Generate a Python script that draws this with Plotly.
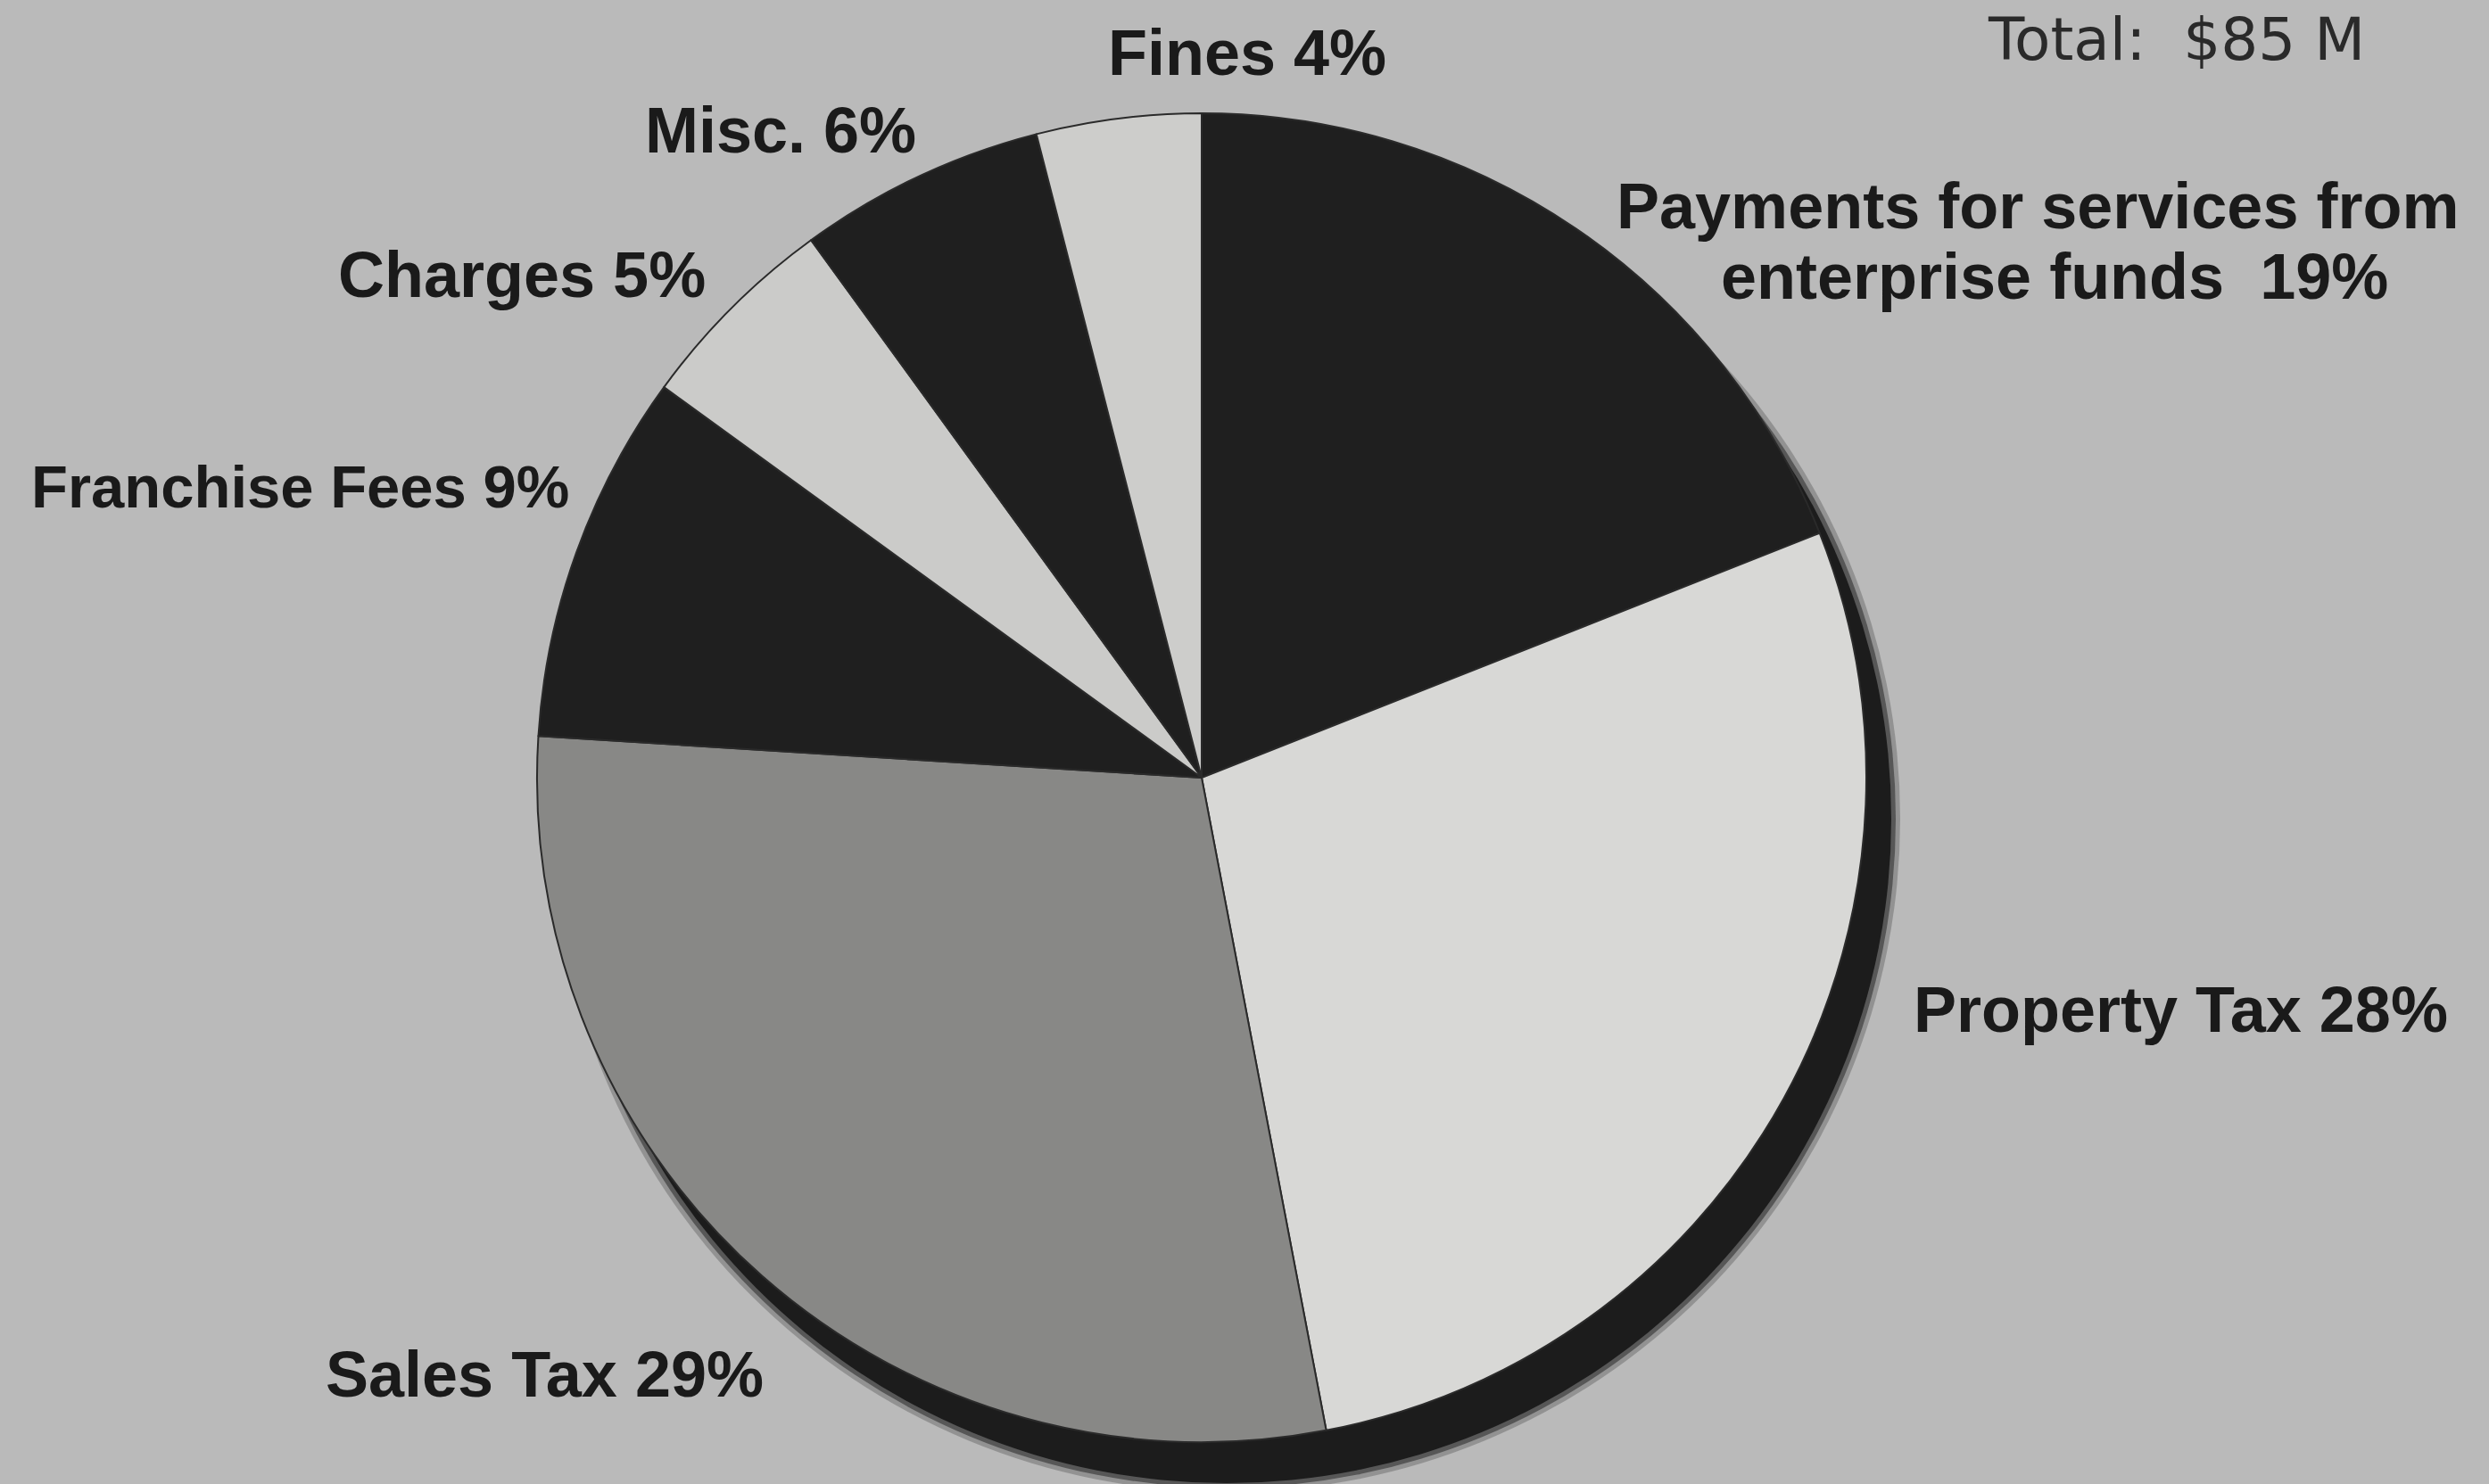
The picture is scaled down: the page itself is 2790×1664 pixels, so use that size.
import plotly.graph_objects as go

# ---- data ----
categories = ["Payments for services from enterprise funds", "Property Tax", "Sales Tax",
              "Franchise Fees", "Charges", "Misc.", "Fines"]
values = [19, 28, 29, 9, 5, 6, 4]
total_label = "Total:  $85 M"

# ---- styles ----
W, H = 2790, 1664
BG = "#bababa"
slice_colors = ["#1f1f1f", "#d8d8d6", "#888886", "#1f1f1f", "#cbcbc9", "#1f1f1f", "#cdcdcb"]
CX, CY, R = 1347, 872, 745          # pie centre / radius in pixels
SHX, SHY = 28, 46                   # shadow offset
TXT = "#1a1a1a"
FONT = "Liberation Sans"

def px(x):
    return x / W

def py(y):
    return 1 - y / H

fig = go.Figure()
fig.add_trace(go.Pie(
    labels=categories, values=values, sort=False, direction="clockwise", rotation=0,
    marker=dict(colors=slice_colors, line=dict(color="#2a2a2a", width=2)),
    textinfo="none", hoverinfo="label+percent", showlegend=False,
    domain=dict(x=[px(CX - R), px(CX + R)], y=[py(CY + R), py(CY - R)]),
))

# soft drop shadow behind the pie
shapes = []
for grow, op in [(10, 0.25), (5, 0.5), (0, 1.0)]:
    r = R + grow
    shapes.append(dict(type="circle", xref="paper", yref="paper", layer="below",
                       x0=px(CX + SHX - r), x1=px(CX + SHX + r),
                       y0=py(CY + SHY + r), y1=py(CY + SHY - r),
                       fillcolor="#1c1c1c", opacity=op, line=dict(width=0)))

# label placement (pixel centres) per category
label_pos = {
    "Fines": [(1398, 59)],
    "Misc.": [(875, 146)],
    "Charges": [(585, 308)],
    "Franchise Fees": [(336, 545)],
    "Payments for services from enterprise funds": [(2284, 231), (2303, 310)],
    "Property Tax": [(2444, 1132)],
    "Sales Tax": [(610, 1541)],
}
annotations = []
for name, val in zip(categories, values):
    if name.startswith("Payments"):
        lines = ["Payments for services from", f"enterprise funds  {val}%"]
    else:
        lines = [f"{name} {val}%"]
    size = 67 if name == "Franchise Fees" else 72
    for line, (x, y) in zip(lines, label_pos[name]):
        annotations.append(dict(text=f"<b>{line}</b>", x=px(x), y=py(y), xref="paper", yref="paper",
                                xanchor="center", yanchor="middle", showarrow=False,
                                font=dict(family=FONT, size=size, color=TXT)))

annotations.append(dict(text=total_label, x=px(2226), y=py(4), xref="paper", yref="paper",
                        xanchor="left", yanchor="top", showarrow=False,
                        font=dict(family="DejaVu Sans", size=66, color="#2a2a2a")))

fig.update_layout(width=W, height=H, margin=dict(l=0, r=0, t=0, b=0),
                  paper_bgcolor=BG, plot_bgcolor=BG,
                  shapes=shapes, annotations=annotations)

fig.write_html("out.html")
